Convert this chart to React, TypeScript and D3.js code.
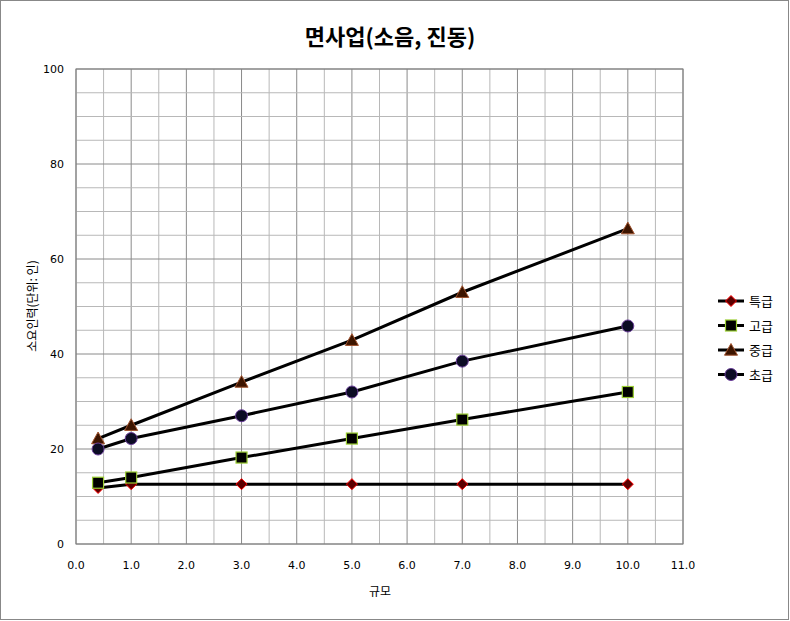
import React from "react";
import * as d3 from "d3";

const xValues = [0.4, 1.0, 3.0, 5.0, 7.0, 10.0];
const seriesNames = ["특급", "고급", "중급", "초급"];
const special = [11.8, 12.6, 12.6, 12.6, 12.6, 12.6];
const advanced = [12.9, 14.0, 18.2, 22.2, 26.2, 32.0];
const intermediate = [22.2, 25.0, 34.1, 42.9, 53.0, 66.4];
const beginner = [20.0, 22.2, 27.0, 32.0, 38.5, 45.9];
const xTicks = [0, 1, 2, 3, 4, 5, 6, 7, 8, 9, 10, 11];
const yTicks = [0, 20, 40, 60, 80, 100];

const W = 790, H = 621;
const M = { left: 76, right: 683, top: 69, bottom: 544 };

export default function App() {
  const x = d3.scaleLinear().domain([0, 11]).range([M.left, M.right]);
  const y = d3.scaleLinear().domain([0, 100]).range([M.bottom, M.top]);
  const line = d3.line<number>().x((_, i) => x(xValues[i])).y((d) => y(d));
  const data = [special, advanced, intermediate, beginner];
  const xMinor = d3.range(0, 11.01, 0.5);
  const yMinor = d3.range(0, 100.1, 5);
  const font = "'DejaVu Sans', 'Noto Sans CJK KR', sans-serif";

  const marker = (k: number, cx: number, cy: number, key: string) => {
    if (k === 0) {
      const s = 5.5;
      return (
        <path key={key} d={`M${cx},${cy - s}L${cx + s},${cy}L${cx},${cy + s}L${cx - s},${cy}Z`}
          fill="#5a0000" stroke="#ff0000" strokeWidth={1} />
      );
    }
    if (k === 1) {
      return <rect key={key} x={cx - 5.5} y={cy - 5.5} width={11} height={11} fill="#000" stroke="#9acd32" strokeWidth={1.2} />;
    }
    if (k === 2) {
      const s = 6.5;
      return (
        <path key={key} d={`M${cx},${cy - s}L${cx + s},${cy + s * 0.8}L${cx - s},${cy + s * 0.8}Z`}
          fill="#3d1500" stroke="#a0522d" strokeWidth={1} />
      );
    }
    return <circle key={key} cx={cx} cy={cy} r={6} fill="#0c0c24" stroke="#6a3d9a" strokeWidth={1} />;
  };

  return (
    <svg width={W} height={H} style={{ position: "absolute", left: 0, top: 0, background: "#fff" }} fontFamily={font}>
      <rect x={0.5} y={0.5} width={W - 2} height={H - 2} fill="#fff" stroke="#888" />
      <text x={390} y={45} textAnchor="middle" fontSize={22} fontWeight="bold" fontFamily="'Noto Sans CJK KR', sans-serif">
        면사업(소음, 진동)
      </text>
      {xMinor.map((v, i) => (
        <line key={"xg" + i} x1={x(v)} x2={x(v)} y1={M.top} y2={M.bottom}
          stroke={Math.abs(v - Math.round(v)) < 1e-6 ? "#8a8a8a" : "#b8b8b8"} strokeWidth={1} />
      ))}
      {yMinor.map((v, i) => (
        <line key={"yg" + i} x1={M.left} x2={M.right} y1={y(v)} y2={y(v)}
          stroke={v % 20 === 0 ? "#8a8a8a" : "#b8b8b8"} strokeWidth={1} />
      ))}
      <rect x={M.left} y={M.top} width={M.right - M.left} height={M.bottom - M.top} fill="none" stroke="#808080" />
      {yTicks.map((v) => (
        <text key={"yt" + v} x={M.left - 12} y={y(v) + 4} textAnchor="end" fontSize={11}>{v}</text>
      ))}
      {xTicks.map((v) => (
        <text key={"xt" + v} x={x(v)} y={M.bottom + 25} textAnchor="middle" fontSize={11}>{v.toFixed(1)}</text>
      ))}
      <text x={380} y={596} textAnchor="middle" fontSize={12} fontFamily="'Noto Sans CJK KR', sans-serif">규모</text>
      <text transform={`translate(37,${306}) rotate(-90)`} textAnchor="middle" fontSize={12} fontFamily="'Noto Sans CJK KR', sans-serif">
        소요인력(단위: 인)
      </text>
      {data.map((s, k) => (
        <path key={"l" + k} d={line(s) || ""} fill="none" stroke="#000" strokeWidth={3} />
      ))}
      {data.map((s, k) => s.map((v, i) => marker(k, x(xValues[i]), y(v), `m${k}-${i}`)))}
      {seriesNames.map((n, k) => {
        const ly = 301 + k * 24.5;
        return (
          <g key={"lg" + k}>
            <line x1={718} x2={744} y1={ly} y2={ly} stroke="#000" strokeWidth={3} />
            {marker(k, 731, ly, "lm" + k)}
            <text x={749} y={ly + 5} fontSize={13} fontFamily="'Noto Sans CJK KR', sans-serif">{n}</text>
          </g>
        );
      })}
    </svg>
  );
}
